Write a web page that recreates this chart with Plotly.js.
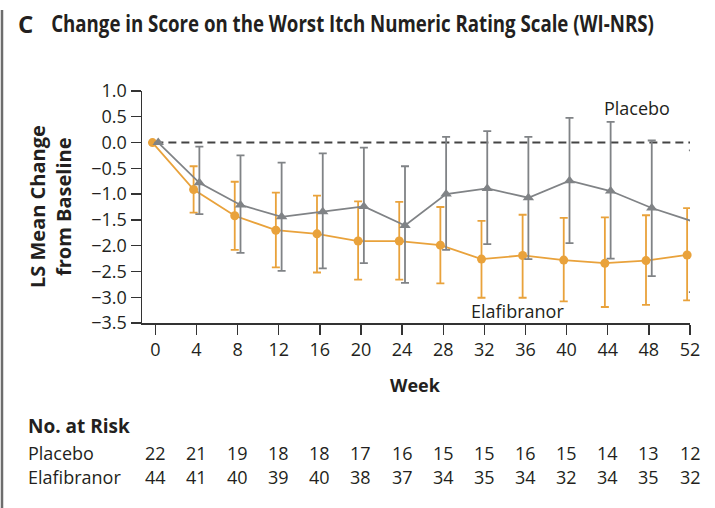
<!DOCTYPE html>
<html>
<head>
<meta charset="utf-8">
<script src="https://cdn.plot.ly/plotly-3.0.1.min.js"></script>
<style>html,body{margin:0;padding:0;background:#fff}#chart{width:715px;height:508px}</style>
</head>
<body>
<div id="chart"></div>
<script>
// ---- data ----
var weeks = [0, 4, 8, 12, 16, 20, 24, 28, 32, 36, 40, 44, 48, 52];
var elafMean  = [0, -0.91, -1.42, -1.70, -1.77, -1.91, -1.91, -1.99, -2.26, -2.19, -2.28, -2.34, -2.29, -2.18];
var elafUpper = [null, -0.46, -0.76, -0.97, -1.03, -1.14, -1.15, -1.25, -1.52, -1.40, -1.46, -1.45, -1.41, -1.27];
var elafLower = [null, -1.36, -2.08, -2.42, -2.52, -2.66, -2.66, -2.73, -3.01, -3.01, -3.08, -3.19, -3.15, -3.06];
var placMean  = [0, -0.78, -1.21, -1.44, -1.34, -1.24, -1.61, -1.00, -0.89, -1.07, -0.74, -0.94, -1.27, -1.53];
var placUpper = [null, -0.08, -0.25, -0.39, -0.21, -0.10, -0.46, 0.11, 0.22, 0.11, 0.48, 0.40, 0.04, -0.15];
var placLower = [null, -1.39, -2.14, -2.49, -2.44, -2.34, -2.72, -2.08, -1.97, -2.26, -1.95, -2.25, -2.59, -2.90];
var riskPlacebo = [22, 21, 19, 18, 18, 17, 16, 15, 15, 16, 15, 14, 13, 12];
var riskElaf    = [44, 41, 40, 39, 40, 38, 37, 34, 35, 34, 32, 34, 35, 32];
var yTicks = [1.0, 0.5, 0.0, -0.5, -1.0, -1.5, -2.0, -2.5, -3.0, -3.5];
var TITLE = 'Change in Score on the Worst Itch Numeric Rating Scale (WI-NRS)';

// ---- styling / layout constants ----
var ORANGE = '#E9A23B', GRAY = '#808386', TXT = '#231f20';
var FONT = 'Open Sans, sans-serif';
var FS = 18;
var DODGE = 0.28;
var W = 715, H = 508, L = 142, R = 25, T = 91, B = 185;
var PW = W - L - R, PH = H - T - B;
var TITLE_W = 603;
function px(x) { return (x - L) / PW; }          // pixel -> paper x
function py(y) { return (H - B - y) / PH; }      // pixel -> paper y

function errs(mean, up, lo) {
  return {
    plus: up.map(function (u, i) { return u === null ? null : u - mean[i]; }),
    minus: lo.map(function (l, i) { return l === null ? null : mean[i] - l; })
  };
}
var eE = errs(elafMean, elafUpper, elafLower);
var eP = errs(placMean, placUpper, placLower);

var traces = [
  {
    x: weeks.map(function (w) { return w - DODGE; }), y: elafMean,
    type: 'scatter', mode: 'lines+markers', cliponaxis: false,
    line: { color: ORANGE, width: 1.8 },
    marker: { color: ORANGE, size: 9, symbol: 'circle' },
    error_y: { type: 'data', symmetric: false, array: eE.plus, arrayminus: eE.minus,
               color: ORANGE, thickness: 1.8, width: 4 }
  },
  {
    x: weeks.map(function (w) { return w + DODGE; }), y: placMean,
    type: 'scatter', mode: 'lines+markers', cliponaxis: false,
    line: { color: GRAY, width: 1.8 },
    marker: { color: GRAY, size: 10, symbol: 'triangle-up' },
    error_y: { type: 'data', symmetric: false, array: eP.plus, arrayminus: eP.minus,
               color: GRAY, thickness: 1.8, width: 4 }
  }
];

function A(text, x, y, xa, font) {
  return { text: text, xref: 'paper', yref: 'paper', x: px(x), y: py(y), xanchor: xa, yanchor: 'middle',
           showarrow: false, font: font };
}
var ann = [
  A('<b>C</b>', 16, 23, 'left', { family: FONT, size: 24, color: TXT }),
  A('<b>' + TITLE + '</b>', 49, 23, 'left', { family: FONT, size: 23, color: TXT }),
  A('Placebo', 637, 108, 'center', { family: FONT, size: FS, color: TXT }),
  A('Elafibranor', 517, 311, 'center', { family: FONT, size: FS, color: TXT }),
  A('<b>Week</b>', 415, 385, 'center', { family: FONT, size: FS, color: TXT }),
  A('<b>No. at Risk</b>', 26, 426, 'left', { family: FONT, size: 19, color: TXT }),
  A('Placebo', 26, 453, 'left', { family: FONT, size: FS, color: TXT }),
  A('Elafibranor', 26, 477, 'left', { family: FONT, size: FS, color: TXT })
];
var yt1 = A('<b>LS Mean Change</b>', 37, 207, 'center', { family: FONT, size: 20, color: TXT });
yt1.textangle = -90;
var yt2 = A('<b>from Baseline</b>', 63, 207, 'center', { family: FONT, size: 20, color: TXT });
yt2.textangle = -90;
ann.push(yt1, yt2);
weeks.forEach(function (w, i) {
  ann.push({ text: String(riskPlacebo[i]), xref: 'x', yref: 'paper', x: w, y: py(453), xanchor: 'center', yanchor: 'middle',
             showarrow: false, font: { family: FONT, size: FS, color: TXT } });
  ann.push({ text: String(riskElaf[i]), xref: 'x', yref: 'paper', x: w, y: py(477), xanchor: 'center', yanchor: 'middle',
             showarrow: false, font: { family: FONT, size: FS, color: TXT } });
});

var layout = {
  width: W, height: H,
  margin: { l: L, r: R, t: T, b: B, pad: 0 },
  paper_bgcolor: '#fff', plot_bgcolor: '#fff',
  showlegend: false,
  font: { family: FONT, color: TXT },
  xaxis: {
    range: [-1.3, 52], tickmode: 'array', tickvals: weeks, ticktext: weeks.map(String),
    showgrid: false, zeroline: false, showline: true, linecolor: '#333', linewidth: 1.5,
    ticks: 'outside', ticklen: 10, tickwidth: 1.3, tickcolor: '#333',
    tickfont: { family: FONT, size: FS, color: TXT }
  },
  yaxis: {
    range: [-3.5, 1.0], tickmode: 'array', tickvals: yTicks, tickformat: '.1f',
    showgrid: false, zeroline: false, showline: true, linecolor: '#333', linewidth: 1.5,
    ticks: 'outside', ticklen: 10, tickwidth: 1.3, tickcolor: '#333',
    tickfont: { family: FONT, size: FS, color: TXT }
  },
  shapes: [
    { type: 'line', xref: 'x', yref: 'y', x0: 0, x1: 52, y0: 0, y1: 0, layer: 'below',
      line: { color: '#444', width: 2, dash: '8px,5px' } },
    { type: 'line', xref: 'paper', yref: 'paper', x0: px(2), x1: px(2), y0: py(10), y1: py(508),
      line: { color: '#6d6d6d', width: 2.5 } }
  ],
  annotations: ann
};

Plotly.newPlot('chart', traces, layout, { staticPlot: true, displayModeBar: false }).then(function (gd) {
  // condense the bold title horizontally so it spans the same width as the reference
  var texts = gd.querySelectorAll('text.annotation-text');
  texts.forEach(function (t) {
    if (t.textContent === TITLE) {
      var w = t.getBBox().width;
      if (w > TITLE_W) {
        var k = TITLE_W / w;
        t.style.transformBox = 'fill-box';
        t.style.transformOrigin = '0% 50%';
        t.style.transform = 'scaleX(' + k.toFixed(4) + ')';
      }
    }
  });
});
</script>
</body>
</html>
